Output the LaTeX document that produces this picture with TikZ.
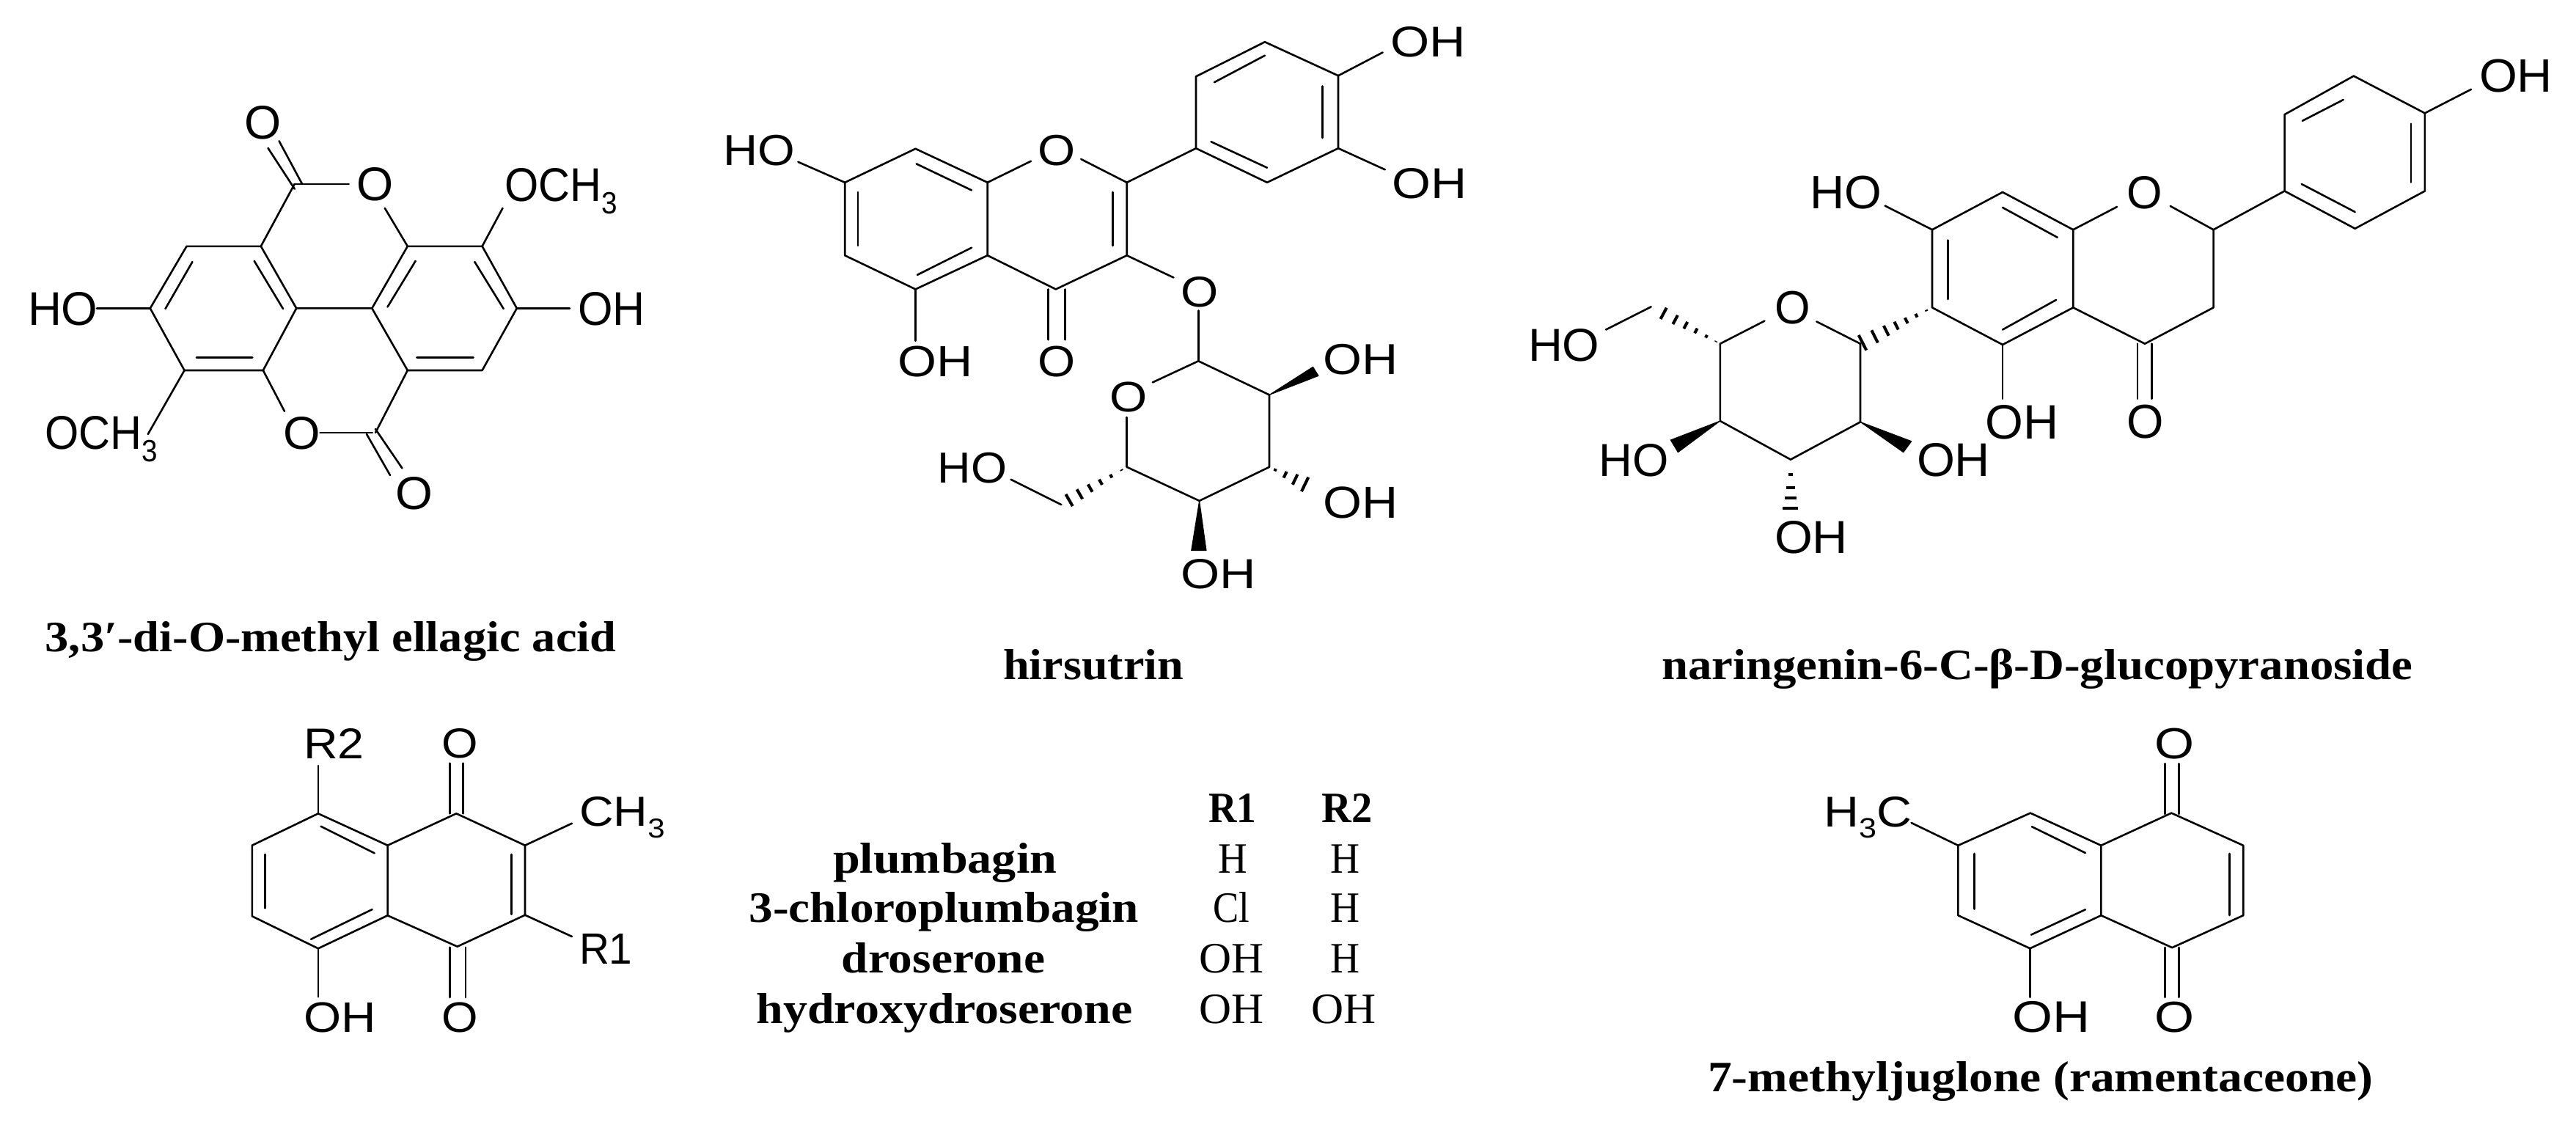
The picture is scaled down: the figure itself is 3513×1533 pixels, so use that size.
\documentclass[tikz,border=0pt]{standalone}
\usepackage{fontspec}
\usepackage{graphicx}
\setmainfont{Liberation Sans}
\newfontfamily\capfont{Liberation Serif}
\usetikzlibrary{calc}
\tikzset{
  bond/.style={line width=0.74pt,line join=round,line cap=round,black},
  hashline/.style={line width=1.15pt,black},
  wedgefill/.style={fill=black,draw=black,line width=0.3pt,line join=round},
  lbl/.style={inner sep=0pt,outer sep=0pt,anchor=base west,text=black}
}
\newcommand{\subiii}{\raisebox{-0.27em}{\scalebox{.65}{3}}}
% name, x1, x2, ytop, ybase, text
\newcommand{\atomlab}[6]{%
  \pgfmathsetlengthmacro{\lw}{(#3-#2+6.5)*0.2845274}%
  \pgfmathsetlengthmacro{\lh}{(#5-#4)*0.2845274}%
  \node[lbl] (#1) at ({#2-3},#5) {\resizebox{\lw}{\lh}{#6}};}
% name, x1, x2, ybase, font switch, text
\newcommand{\capnode}[6]{%
  \pgfmathsetlengthmacro{\lw}{(#3-#2)*0.2845274}%
  \node[lbl] (#1) at (#2,#4) {\resizebox{\lw}{\height}{\capfont\fontsize{16.8}{20}\selectfont#5#6}};}
% inner line with its two named ends
\newcommand{\bondseg}[5]{\coordinate (#1s) at (#2,#3); \coordinate (#1e) at (#4,#5); \draw[bond] (#1s) -- (#1e);}
% bond from atom to a free end next to a label
\newcommand{\freebond}[4]{\coordinate (#1) at (#3,#4); \draw[bond] (#2) -- (#1);}
\newcommand{\atomat}[3]{\coordinate (#1) at (#2,#3);}
% hashed bond: narrow end, wide end, half width in pt, list of fractions
\newcommand{\hashbond}[4]{\foreach \t in {#4} {\draw[hashline] ($(#1)!\t!(#2)!{\t*#3}!90:(#2)$) -- ($(#1)!\t!(#2)!{\t*#3}!-90:(#2)$);}}

\begin{document}
\begin{tikzpicture}[x=0.01cm,y=-0.01cm]
\useasboundingbox (0,0) rectangle (3513,1533);

%% ---------- 3,3'-di-O-methyl ellagic acid
\atomat{a1}{254.5}{335.8}\atomat{a2}{355.8}{335.8}\atomat{a3}{404.2}{420.4}
\atomat{a4}{358.8}{505}\atomat{a5}{251.5}{505}\atomat{a6}{204.8}{420.4}
\atomat{b1}{555.8}{335.8}\atomat{b2}{657.6}{335.8}\atomat{b3}{704.8}{420.4}
\atomat{b4}{657.6}{505}\atomat{b5}{555.8}{505}\atomat{b6}{507.3}{420.4}
\atomat{c1}{401.8}{250.8}\atomat{c2}{512}{590}
\draw[bond] (a1)--(a2)--(a3)--(a4)--(a5)--(a6)--cycle;
\draw[bond] (b1)--(b2)--(b3)--(b4)--(b5)--(b6)--cycle;
\draw[bond] (a3)--(b6) (a2)--(c1) (b5)--(c2);
\atomlab{ma-o1}{336.4}{380}{144}{189}{O}
\atomlab{ma-o2}{489.7}{533.3}{228.8}{273.8}{O}
\atomlab{ma-och1}{691}{838}{229}{274}{OCH\subiii}
\atomlab{ma-ho}{41}{130}{398}{443}{HO}
\atomlab{ma-oh}{791}{876}{398}{443}{OH}
\atomlab{ma-och2}{64}{211}{567}{612}{OCH\subiii}
\atomlab{ma-o3}{389}{433}{568}{612}{O}
\atomlab{ma-o4}{542.4}{586.7}{650}{694}{O}
\freebond{fa1}{c1}{475.8}{250.8}
\freebond{fa2}{b1}{524.8}{283.8}
\freebond{fa3}{b2}{685.5}{283.8}
\freebond{fa4}{a6}{132}{420.4}
\freebond{fa5}{b3}{777}{420.4}
\freebond{fa6}{a5}{201.8}{592}
\freebond{fa7}{a4}{388}{560.8}
\bondseg{sa1}{436.4}{590}{507.9}{590}
\bondseg{sa2}{412}{250.8}{380.6}{192.3}
\bondseg{sa3}{401.8}{257.7}{365.5}{201.9}
\bondseg{sa4}{500}{592}{532}{648}
\bondseg{sa5}{512}{585}{548.5}{638.5}
\bondseg{sa6}{262.4}{357}{225.5}{421}
\bondseg{sa7}{346.7}{355.8}{386}{421}
\bondseg{sa8}{267.9}{487.3}{344.2}{487.3}
\bondseg{sa9}{566.7}{355.8}{528.5}{418.5}
\bondseg{sa10}{647.3}{357}{686.7}{421}
\bondseg{sa11}{568.5}{487.3}{645.5}{487.3}
\capnode{cap-a}{61.7}{840}{888}{\bfseries}{3,3′-di-O-methyl ellagic acid}

%% ---------- hirsutrin
\atomat{g1}{1248.5}{202.8}\atomat{g2}{1346.7}{248.8}\atomat{g3}{1346.7}{348.3}
\atomat{g4}{1248.5}{394.4}\atomat{g5}{1152.2}{348.3}\atomat{g6}{1152.2}{248.8}
\atomat{g7}{1536.7}{248.8}\atomat{g8}{1536.7}{348.3}\atomat{g9}{1439.8}{394.4}
\atomat{d1}{1631}{202.2}\atomat{d2}{1631}{104.3}\atomat{d3}{1724.9}{57.2}
\atomat{d4}{1825}{103.2}\atomat{d5}{1825}{202.2}\atomat{d6}{1728}{248.8}
\atomat{e1}{1634.3}{492.3}\atomat{e2}{1731}{538.4}\atomat{e3}{1731}{636.8}
\atomat{e4}{1635.6}{682.9}\atomat{e5}{1536.7}{636.8}
\coordinate (e7) at (1447.4,688.2);
\draw[bond] (g1)--(g2)--(g3)--(g4)--(g5)--(g6)--cycle;
\draw[bond] (g7)--(g8)--(g9)--(g3);
\draw[bond] (g7)--(d1);
\draw[bond] (d1)--(d2)--(d3)--(d4)--(d5)--(d6)--cycle;
\draw[bond] (e1)--(e2)--(e3)--(e4)--(e5);
\atomlab{mb-ho1}{989.5}{1080.7}{183.7}{225}{HO}
\atomlab{mb-o1}{1418.8}{1463.4}{183.7}{225}{O}
\atomlab{mb-o2}{1418.8}{1463.4}{472}{513.5}{O}
\atomlab{mb-oh1}{1227.4}{1323}{472}{513.5}{OH}
\atomlab{mb-oh2}{1899}{1995}{36}{77}{OH}
\atomlab{mb-oh3}{1901.5}{1997}{229}{270}{OH}
\atomlab{mb-o3}{1613.3}{1658}{377}{418}{O}
\atomlab{mb-o4}{1516.3}{1561}{520.4}{561}{O}
\atomlab{mb-oh4}{1807.8}{1903.4}{469.6}{510.8}{OH}
\atomlab{mb-oh5}{1807.8}{1903.4}{664}{706.7}{OH}
\atomlab{mb-oh6}{1613}{1709}{762}{802}{OH}
\atomlab{mb-ho2}{1281.6}{1369.6}{616.7}{658}{HO}
\freebond{fb1}{g2}{1406}{219.7}
\freebond{fb2}{g7}{1474.2}{217}
\freebond{fb3}{g4}{1248.5}{464.8}
\freebond{fb4}{g6}{1088.4}{220.8}
\freebond{fb5}{d4}{1885.6}{71.5}
\freebond{fb6}{d5}{1888.8}{231.3}
\freebond{fb7}{g8}{1600.5}{378.5}
\freebond{fb8}{e1}{1634.3}{423.5}
\freebond{fb9}{e1}{1571.8}{521.4}
\freebond{fb10}{e5}{1536.7}{569}
\freebond{fb11}{e7}{1378.6}{653.8}
\bondseg{sb1}{1429.6}{394.4}{1429.6}{463.2}
\bondseg{sb2}{1452.6}{394.4}{1452.6}{463.2}
\bondseg{sb3}{1249.7}{223.4}{1325}{259.4}
\bondseg{sb4}{1170}{262}{1170}{335}
\bondseg{sb5}{1251}{374.8}{1325}{337.7}
\bondseg{sb6}{1517.6}{262}{1517.6}{335}
\bondseg{sb7}{1656}{112.2}{1724.9}{75.7}
\bondseg{sb8}{1803.3}{117.5}{1803.3}{188}
\bondseg{sb9}{1651.5}{193.2}{1728}{228.7}
\coordinate (wb1a) at (1790.5,500.3);\coordinate (wb1b) at (1798,512.4);
\fill[wedgefill] (e2)--(wb1a)--(wb1b)--cycle;
\coordinate (wb2a) at (1624.7,750.7);\coordinate (wb2b) at (1645,750.7);
\fill[wedgefill] (e4)--(wb2a)--(wb2b)--cycle;
\coordinate (hb1) at (1785,663);
\hashbond{e3}{hb1}{3.4pt}{0.15,0.4,0.65,0.9}
\hashbond{e5}{e7}{3pt}{0.08,0.24,0.4,0.56,0.72,0.88,1}
\capnode{cap-b}{1368}{1614}{926}{\bfseries}{hirsutrin}

%% ---------- naringenin-6-C-beta-D-glucopyranoside
\atomat{f1}{2731}{262}\atomat{f2}{2827.2}{313.2}\atomat{f3}{2827.2}{419.4}
\atomat{f4}{2731}{470}\atomat{f5}{2635}{419.4}\atomat{f6}{2635}{313.2}
\atomat{n1}{3018.5}{313.2}\atomat{n2}{3018.5}{419.4}\atomat{n3}{2925}{468.7}
\atomat{h1}{3115.5}{260.5}\atomat{h2}{3115.5}{156.2}\atomat{h3}{3209.8}{103.6}
\atomat{h4}{3306.8}{154.3}\atomat{h5}{3306.8}{260.5}\atomat{h6}{3211.6}{311.7}
\atomat{i1}{2537}{468.7}\atomat{i2}{2537}{575.4}\atomat{i3}{2441.9}{626.6}
\atomat{i4}{2345.8}{574}\atomat{i6}{2345.8}{468.7}
\coordinate (ht) at (2251.7,418.3);
\draw[bond] (f1)--(f2)--(f3)--(f4)--(f5)--(f6)--cycle;
\draw[bond] (n1)--(n2)--(n3)--(f3);
\draw[bond] (n1)--(h1);
\draw[bond] (h1)--(h2)--(h3)--(h4)--(h5)--(h6)--cycle;
\draw[bond] (i1)--(i2)--(i3)--(i4)--(i6);
\atomlab{mc-o1}{2903.7}{2945.7}{240.4}{284.4}{O}
\atomlab{mc-o2}{2903.7}{2947.6}{552.4}{597.8}{O}
\atomlab{mc-oh1}{2710.6}{2804}{552}{598}{OH}
\atomlab{mc-ho1}{2471.7}{2563}{240}{284.5}{HO}
\atomlab{mc-oh2}{3384}{3477.5}{81}{125.6}{OH}
\atomlab{mc-o3}{2423}{2465}{397}{441.4}{O}
\atomlab{mc-ho2}{2087}{2178}{448.6}{492.6}{HO}
\atomlab{mc-oh3}{2617}{2710.6}{604}{649}{OH}
\atomlab{mc-ho3}{2183.4}{2272}{605}{649}{HO}
\atomlab{mc-oh4}{2423}{2516.5}{710}{754}{OH}
\freebond{fc1}{f2}{2887}{282}
\freebond{fc2}{n1}{2959.7}{281}
\freebond{fc3}{f4}{2731}{543.8}
\freebond{fc4}{f6}{2570.6}{280.6}
\freebond{fc5}{h4}{3370}{121.8}
\freebond{fc6}{i1}{2477.3}{438.5}
\freebond{fc7}{i6}{2406.4}{437.6}
\freebond{fc8}{ht}{2190}{449.5}
\bondseg{sc1}{2915}{468.7}{2915}{543.8}
\bondseg{sc2}{2934.5}{468.7}{2934.5}{543.8}
\bondseg{sc3}{2731}{283}{2805.7}{323.7}
\bondseg{sc4}{2656.5}{327.5}{2656.5}{408}
\bondseg{sc5}{2804}{408.9}{2731}{449.5}
\bondseg{sc6}{3139.8}{164.8}{3195.7}{136}
\bondseg{sc7}{3288}{168.7}{3288}{248.6}
\bondseg{sc8}{3138.8}{251}{3211.6}{289}
\coordinate (wc1a) at (2606.7,601.7);\coordinate (wc1b) at (2595.7,616.7);
\fill[wedgefill] (i2)--(wc1a)--(wc1b)--cycle;
\coordinate (wc2a) at (2278.3,600);\coordinate (wc2b) at (2288.3,616.7);
\fill[wedgefill] (i4)--(wc2a)--(wc2b)--cycle;
\coordinate (hc3) at (2441.9,700);
\hashbond{i3}{hc3}{3.3pt}{0.28,0.52,0.72,0.9,1}
\hashbond{f5}{i1}{3.4pt}{0.08,0.22,0.36,0.5,0.64,0.8,0.97}
\hashbond{i6}{ht}{3pt}{0.06,0.2,0.35,0.5,0.65,0.82,1}
\capnode{cap-c}{2266}{3290}{926.7}{\bfseries}{naringenin-6-C-β-D-glucopyranoside}

%% ---------- plumbagin core
\atomat{j1}{433.9}{1109.3}\atomat{j2}{528.6}{1152.7}\atomat{j3}{528.6}{1248.3}
\atomat{j4}{433.9}{1293.3}\atomat{j5}{343.8}{1249.3}\atomat{j6}{343.8}{1152.7}
\atomat{k1}{622.3}{1109.3}\atomat{k2}{716}{1152.7}\atomat{k3}{716}{1247.7}
\atomat{k4}{623.7}{1290.7}
\draw[bond] (j1)--(j2)--(j3)--(j4)--(j5)--(j6)--cycle;
\draw[bond] (j2)--(k1)--(k2)--(k3)--(k4)--(j3);
\atomlab{md-o1}{605}{648}{993}{1033}{O}
\atomlab{md-o2}{605}{648}{1366.7}{1407.3}{O}
\atomlab{md-r2}{417}{493}{993}{1034}{R2}
\atomlab{md-oh}{417}{509}{1366.7}{1407.3}{OH}
\atomlab{md-ch}{793}{903}{1086.7}{1126.7}{CH\subiii}
\atomlab{md-r1}{793}{859}{1273}{1314}{R1}
\freebond{fd1}{j1}{433.9}{1044}
\freebond{fd2}{j4}{433.9}{1359.3}
\freebond{fd3}{k2}{780}{1122.7}
\freebond{fd4}{k3}{780}{1277}
\bondseg{sd1}{613.4}{1109.3}{613.4}{1040.7}
\bondseg{sd2}{631.3}{1109.3}{631.3}{1040.7}
\bondseg{sd3}{613.4}{1291.7}{613.4}{1360}
\bondseg{sd4}{634.8}{1291.7}{634.8}{1360}
\bondseg{sd5}{437.5}{1126.7}{510.7}{1163.3}
\bondseg{sd6}{361.6}{1165}{361.6}{1238.3}
\bondseg{sd7}{507.6}{1240}{424}{1280.7}
\bondseg{sd8}{697.3}{1165}{697.3}{1246.7}

%% ---------- table
\capnode{t-r1}{1648.3}{1713.4}{1121.7}{\bfseries}{R1}
\capnode{t-r2}{1802.7}{1871.6}{1121.7}{\bfseries}{R2}
\capnode{t-n1}{1136}{1441}{1190.7}{\bfseries}{plumbagin}
\capnode{t-n2}{1021.4}{1552.7}{1257.3}{\bfseries}{3-chloroplumbagin}
\capnode{t-n3}{1147.7}{1425}{1326}{\bfseries}{droserone}
\capnode{t-n4}{1031.6}{1544.4}{1395}{\bfseries}{hydroxydroserone}
\capnode{t-a1}{1661}{1700.6}{1190.7}{}{H}
\capnode{t-b1}{1814}{1854}{1190.7}{}{H}
\capnode{t-a2}{1654.7}{1704.5}{1257.3}{}{Cl}
\capnode{t-b2}{1814}{1854}{1257.3}{}{H}
\capnode{t-a3}{1635.6}{1723.6}{1326}{}{OH}
\capnode{t-b3}{1814}{1854}{1326}{}{H}
\capnode{t-a4}{1635.6}{1723.6}{1395}{}{OH}
\capnode{t-b4}{1788.6}{1876.7}{1395}{}{OH}

%% ---------- 7-methyljuglone
\atomat{l1}{2768.9}{1108.6}\atomat{l2}{2865.3}{1152.8}\atomat{l3}{2865.3}{1248.2}
\atomat{l4}{2768.4}{1293.2}\atomat{l5}{2670.4}{1248.2}\atomat{l6}{2670.4}{1152.8}
\atomat{o1}{2961.2}{1108.6}\atomat{o2}{3059.2}{1152.8}\atomat{o3}{3059.2}{1248.2}
\atomat{o4}{2962.2}{1292.1}
\draw[bond] (l1)--(l2)--(l3)--(l4)--(l5)--(l6)--cycle;
\draw[bond] (l2)--(o1)--(o2)--(o3)--(o4)--(l3);
\atomlab{me-o1}{2941.8}{2989.3}{992.8}{1034.2}{O}
\atomlab{me-o2}{2941.8}{2989.3}{1366.5}{1407.9}{O}
\atomlab{me-oh}{2747}{2846.4}{1365.8}{1407.9}{OH}
\atomlab{me-ch}{2490.8}{2604}{1086}{1127}{H\subiii C}
\freebond{fe1}{l4}{2768.4}{1359.8}
\freebond{fe2}{l6}{2606.6}{1122}
\bondseg{se1}{2952.6}{1110}{2952.6}{1041.2}
\bondseg{se2}{2971.4}{1110}{2971.4}{1041.2}
\bondseg{se3}{2952.6}{1292}{2952.6}{1359.8}
\bondseg{se4}{2971.4}{1292}{2971.4}{1359.8}
\bondseg{se5}{2770.9}{1127.2}{2843.9}{1163}
\bondseg{se6}{2692.3}{1164}{2692.3}{1239.5}
\bondseg{se7}{2843.9}{1240.2}{2769.9}{1274.6}
\bondseg{se8}{3040.3}{1164}{3040.3}{1248}
\capnode{cap-e}{2329}{3236}{1488}{\bfseries}{7-methyljuglone (ramentaceone)}
\end{tikzpicture}
\end{document}
